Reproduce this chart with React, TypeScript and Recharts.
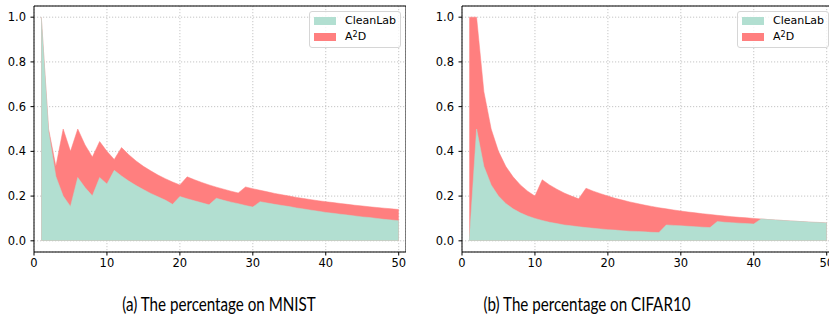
import React from 'react';
import {
  ComposedChart,
  Area,
  XAxis,
  YAxis,
  CartesianGrid,
  ReferenceArea,
} from 'recharts';

// x = number of samples checked
const steps = [
  1, 2, 3, 4, 5, 6, 7, 8, 9, 10,
  11, 12, 13, 14, 15, 16, 17, 18, 19, 20,
  21, 22, 23, 24, 25, 26, 27, 28, 29, 30,
  31, 32, 33, 34, 35, 36, 37, 38, 39, 40,
  41, 42, 43, 44, 45, 46, 47, 48, 49, 50,
];

const mnistCleanLab = [
  1.0, 0.49, 0.288, 0.2, 0.154, 0.283, 0.238, 0.201, 0.283, 0.254,
  0.315, 0.29, 0.267, 0.247, 0.229, 0.212, 0.197, 0.182, 0.163, 0.198,
  0.188, 0.179, 0.17, 0.161, 0.19, 0.181, 0.173, 0.166, 0.158, 0.151,
  0.175, 0.169, 0.163, 0.158, 0.153, 0.147, 0.142, 0.137, 0.132, 0.127,
  0.123, 0.119, 0.115, 0.111, 0.107, 0.104, 0.1, 0.096, 0.093, 0.09,
];

const mnistA2D = [
  1.0, 0.5, 0.333, 0.5, 0.4, 0.5, 0.429, 0.375, 0.444, 0.4,
  0.364, 0.417, 0.385, 0.357, 0.333, 0.313, 0.294, 0.278, 0.263, 0.25,
  0.286, 0.273, 0.261, 0.25, 0.24, 0.231, 0.222, 0.214, 0.241, 0.233,
  0.226, 0.219, 0.212, 0.206, 0.2, 0.194, 0.189, 0.184, 0.179, 0.175,
  0.171, 0.167, 0.163, 0.159, 0.156, 0.152, 0.149, 0.146, 0.143, 0.14,
];

const cifarCleanLab = [
  0, 0.5, 0.333, 0.25, 0.2, 0.167, 0.143, 0.125, 0.111, 0.1,
  0.091, 0.083, 0.077, 0.071, 0.067, 0.063, 0.059, 0.056, 0.053, 0.05,
  0.048, 0.045, 0.043, 0.042, 0.04, 0.038, 0.037, 0.071, 0.069, 0.067,
  0.065, 0.063, 0.061, 0.059, 0.086, 0.083, 0.081, 0.079, 0.077, 0.075,
  0.098, 0.095, 0.093, 0.091, 0.089, 0.087, 0.085, 0.083, 0.082, 0.08,
];

const cifarA2D = [
  1.0, 1.0, 0.667, 0.5, 0.4, 0.333, 0.286, 0.25, 0.222, 0.2,
  0.273, 0.25, 0.231, 0.214, 0.2, 0.188, 0.235, 0.222, 0.211, 0.2,
  0.19, 0.182, 0.174, 0.167, 0.16, 0.154, 0.148, 0.143, 0.138, 0.133,
  0.129, 0.125, 0.121, 0.118, 0.114, 0.111, 0.108, 0.105, 0.103, 0.1,
  0.098, 0.095, 0.093, 0.091, 0.089, 0.087, 0.085, 0.083, 0.082, 0.08,
];

const xTicks = [0, 10, 20, 30, 40, 50];
const yTicks = [0, 0.2, 0.4, 0.6, 0.8, 1.0];

const TEAL = '#b2dfd1';
const RED = '#ff7f7f';
const tickFont = { fill: '#000', fontSize: 11.5, fontFamily: 'DejaVu Sans' };

function makeRows(cleanlab: number[], a2d: number[]) {
  return steps.map((x, i) => ({ x, cleanlab: cleanlab[i], a2d: a2d[i] }));
}

function Legend() {
  const label = { position: 'absolute' as const, left: 345, height: 14, lineHeight: '14px', fontSize: 11, fontFamily: 'DejaVu Sans', color: '#000' };
  return (
    <>
      <div style={{ position: 'absolute', left: 309, top: 11, width: 90, height: 35, border: '1px solid #d6d6d6', borderRadius: 3, background: 'rgba(255,255,255,0.8)' }} />
      <div style={{ position: 'absolute', left: 314, top: 17, width: 22, height: 8, background: TEAL }} />
      <div style={{ ...label, top: 14 }}>CleanLab</div>
      <div style={{ position: 'absolute', left: 314, top: 33, width: 22, height: 8, background: RED }} />
      <div style={{ ...label, top: 30 }}>
        A<sup style={{ fontSize: 8, verticalAlign: 'top', lineHeight: '10px' }}>2</sup>D
      </div>
    </>
  );
}

function Panel({ rows, left }: { rows: any[]; left: number }) {
  return (
    <div style={{ position: 'absolute', left, top: 0, width: 406, height: 275 }}>
      <ComposedChart width={406} height={275} data={rows} margin={{ top: 6, right: 0, bottom: 0, left: 0 }}>
        <XAxis
          dataKey="x"
          type="number"
          domain={[0, 51]}
          ticks={xTicks}
          interval={0}
          allowDataOverflow
          axisLine={false}
          tickLine={{ stroke: '#000' }}
          tickSize={3.5}
          tickMargin={3.5}
          height={23}
          tick={tickFont}
        />
        <YAxis
          type="number"
          domain={[-0.05, 1.05]}
          ticks={yTicks}
          interval={0}
          allowDataOverflow
          axisLine={false}
          tickLine={{ stroke: '#000' }}
          tickSize={3.5}
          tickMargin={4.5}
          width={34}
          tick={tickFont}
          tickFormatter={(v: number) => v.toFixed(1)}
        />
        <Area
          type="linear"
          dataKey="a2d"
          baseValue={0}
          fill={RED}
          fillOpacity={1}
          stroke={RED}
          strokeWidth={0.5}
          isAnimationActive={false}
        />
        <Area
          type="linear"
          dataKey="cleanlab"
          baseValue={0}
          fill={TEAL}
          fillOpacity={1}
          stroke={TEAL}
          strokeWidth={0.5}
          isAnimationActive={false}
        />
        <CartesianGrid stroke="#b8b8b8" strokeWidth={0.8} strokeDasharray="1.2 1.8" />
        <ReferenceArea x1={0} x2={51} y1={-0.05} y2={1.05} fill="none" fillOpacity={0} stroke="#000" strokeWidth={1} />
      </ComposedChart>
      <Legend />
    </div>
  );
}

export default function App() {
  const caption = { position: 'absolute' as const, top: 293, width: 300, textAlign: 'center' as const, fontFamily: 'Lato', fontSize: 18.5, color: '#000', transform: 'scaleX(0.82)', transformOrigin: 'center' };
  return (
    <div style={{ position: 'fixed', left: 0, top: 0, width: 829, height: 325, overflow: 'hidden', background: '#fff' }}>
      <Panel rows={makeRows(mnistCleanLab, mnistA2D)} left={0} />
      <Panel rows={makeRows(cifarCleanLab, cifarA2D)} left={428} />
      <div style={{ ...caption, left: 219 - 150 }}>(a) The percentage on MNIST</div>
      <div style={{ ...caption, left: 587 - 150 }}>(b) The percentage on CIFAR10</div>
    </div>
  );
}
